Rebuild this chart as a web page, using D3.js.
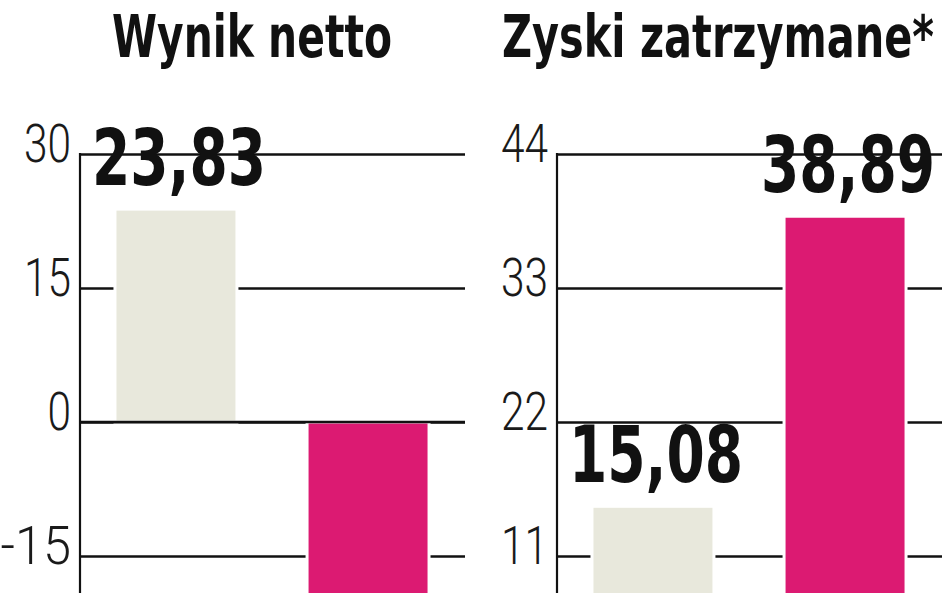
<!DOCTYPE html>
<html>
<head>
<meta charset="utf-8">
<script src="https://cdn.jsdelivr.net/npm/d3@7"></script>
<style>
  html, body { margin: 0; padding: 0; background: #ffffff; overflow: hidden; }
  svg { display: block; }
  .bold { font-family: "DejaVu Sans Condensed", "DejaVu Sans", sans-serif; font-weight: bold; }
  .light { font-family: "Roboto", "Lato", "DejaVu Sans", sans-serif; font-weight: 300; }
</style>
</head>
<body>
<svg id="chart" width="948" height="593"></svg>
<script>
// ---- data ----
const titles = ["Wynik netto", "Zyski zatrzymane*"];
const categories = ["okres poprzedni", "okres bieżący"];
const netValues = [23.83, -21.5];
const retainedValues = [15.08, 38.89];
const netTicks = [30, 15, 0, -15];
const retainedTicks = [44, 33, 22, 11];
const barColors = ["#e8e8dc", "#dc1a72"];

const W = 948, H = 593;
const svg = d3.select("#chart");
const plFmt = d3.formatLocale({decimal: ",", thousands: " ", grouping: [3], currency: ["", " zł"], minus: "-"});
const fmt = plFmt.format(".2f");
const tickFmt = plFmt.format("d");

const gridTop = 154, gridBottom = 556;

const panels = [
  {title: titles[0], values: netValues, ticks: netTicks, x0: 80, x1: 464, titleX: 252, titleW: 280},
  {title: titles[1], values: retainedValues, ticks: retainedTicks, x0: 557, x1: 941, titleX: 718, titleW: 432}
];

panels.forEach(p => {
  const g = svg.append("g");
  const y = d3.scaleLinear()
    .domain([d3.max(p.ticks), d3.min(p.ticks)])
    .range([gridTop, gridBottom]);
  const x = d3.scaleBand()
    .domain(categories)
    .range([p.x0, p.x1])
    .paddingInner(0.365)
    .paddingOuter(0.182);

  // title
  g.append("text")
    .attr("class", "bold")
    .attr("x", p.titleX)
    .attr("y", 57)
    .attr("text-anchor", "middle")
    .attr("font-size", 58)
    .attr("fill", "#111")
    .attr("textLength", p.titleW)
    .attr("lengthAdjust", "spacingAndGlyphs")
    .text(p.title);

  // axis with gridlines
  const axis = d3.axisLeft(y)
    .tickValues(p.ticks)
    .tickFormat(tickFmt)
    .tickSizeInner(-(p.x1 - p.x0 + 1))
    .tickSizeOuter(0)
    .tickPadding(9);
  const ag = g.append("g")
    .attr("transform", `translate(${p.x0},0)`)
    .call(axis);
  ag.select(".domain").remove();
  ag.selectAll(".tick line").attr("stroke", "#111").attr("stroke-width", 2.6);
  ag.selectAll(".tick text")
    .attr("class", "light")
    .attr("font-size", 53)
    .attr("fill", "#1a1a1a")
    .attr("dy", 7)
    .attr("textLength", function() { return 23.5 * this.textContent.length; })
    .attr("lengthAdjust", "spacingAndGlyphs");

  // bars
  const y0 = y(0);
  g.selectAll("rect.bar")
    .data(p.values)
    .join("rect")
    .attr("class", "bar")
    .attr("x", (d, i) => x(categories[i]))
    .attr("width", x.bandwidth())
    .attr("y", d => Math.min(y(d), y0))
    .attr("height", d => Math.abs(y(d) - y0))
    .attr("fill", (d, i) => barColors[i])
    .attr("stroke", "#ffffff")
    .attr("stroke-width", 3);

  // zero baseline over bars (if visible)
  if (y0 >= gridTop && y0 <= H) {
    g.append("line")
      .attr("x1", p.x0).attr("x2", p.x1 + 1)
      .attr("y1", y0).attr("y2", y0)
      .attr("stroke", "#111")
      .attr("stroke-width", 2.6);
  }

  // value labels (only those inside the visible area)
  const labelled = p.values.map((v, i) => ({v, i})).filter(d => d.v >= 0);
  g.selectAll("text.val")
    .data(labelled)
    .join("text")
    .attr("class", "val bold")
    .attr("x", d => x(categories[d.i]) + x.bandwidth() / 2 + 3)
    .attr("y", d => y(d.v) - 24)
    .attr("text-anchor", "middle")
    .attr("font-size", 78)
    .attr("fill", "#111")
    .attr("textLength", 174)
    .attr("lengthAdjust", "spacingAndGlyphs")
    .text(d => fmt(d.v));

  // vertical axis line
  g.append("line")
    .attr("x1", p.x0).attr("x2", p.x0)
    .attr("y1", gridTop - 1).attr("y2", H)
    .attr("stroke", "#111")
    .attr("stroke-width", 2.2);
});
</script>
</body>
</html>
